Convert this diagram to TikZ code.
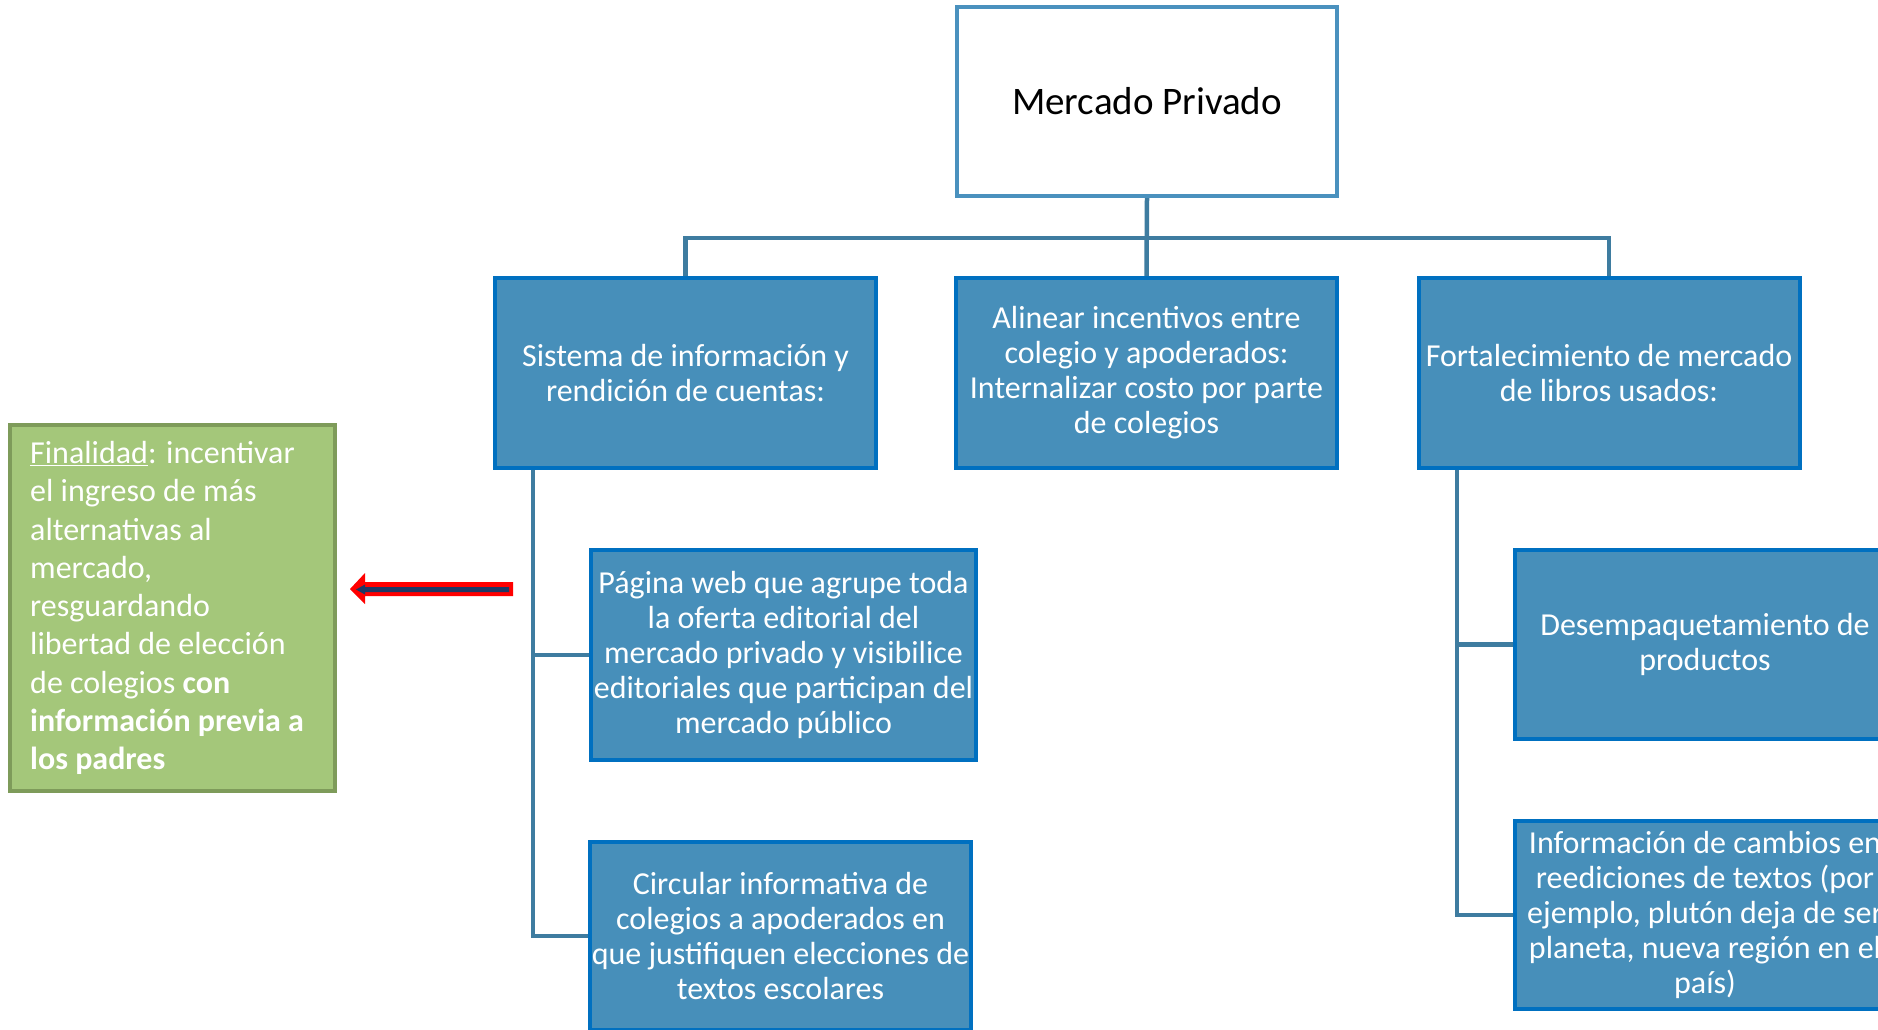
\documentclass[tikz,border=0pt]{standalone}
\usepackage{fontspec}
\setmainfont{Carlito}
\definecolor{boxfill}{RGB}{71,143,186}
\definecolor{boxline}{RGB}{0,112,192}
\definecolor{topline}{RGB}{74,145,190}
\definecolor{conncol}{RGB}{62,124,160}
\definecolor{greenfill}{RGB}{164,199,122}
\definecolor{greenline}{RGB}{126,155,90}
\definecolor{navy}{RGB}{31,56,100}
\pgfdeclarelayer{back}
\pgfsetlayers{back,main}
\begin{document}
\begin{tikzpicture}[x=1pt,y=-1pt,
  bluebox/.style={draw=boxline,fill=boxfill,line width=4pt,text=white,align=center,
    font=\fontsize{32}{35}\selectfont,inner sep=0pt,minimum width=381pt,minimum height=190pt},
  topbox/.style={draw=topline,fill=white,line width=4pt,text=black,align=center,
    font=\fontsize{39}{45}\selectfont,inner sep=0pt,minimum width=380pt,minimum height=189pt},
  greenbox/.style={draw=greenline,fill=greenfill,line width=4pt,inner sep=0pt,
    minimum width=325pt,minimum height=366pt},
  greentext/.style={text=white,align=left,font=\fontsize{32}{38.3}\selectfont,inner sep=0pt},
  conn/.style={draw=conncol,line width=4.5pt}]
\useasboundingbox (0,0) rectangle (1878,1029);
\clip (0,0) rectangle (1878,1029);
\begin{pgfonlayer}{back}
\fill[white] (0,0) rectangle (1878,1029);
\end{pgfonlayer}

\node[topbox] (top) at (1147,101.5) {Mercado Privado};
\node[bluebox] (sis) at (685.5,373) {Sistema de información y\\rendición de cuentas:};
\node[bluebox] (mid) at (1146.5,373) {Alinear incentivos entre\\colegio y apoderados:\\Internalizar costo por parte\\de colegios};
\node[bluebox] (fort) at (1609,373) {Fortalecimiento de mercado\\de libros usados:};
\node[bluebox,minimum width=385pt,minimum height=210pt] (web) at (783.5,655) {Página web que agrupe toda\\la oferta editorial del\\mercado privado y visibilice\\editoriales que participan del\\mercado público};
\node[bluebox,minimum height=188pt] (circ) at (780.5,936) {Circular informativa de\\colegios a apoderados en\\que justifiquen elecciones de\\textos escolares};
\node[bluebox,minimum width=380pt,minimum height=189pt] (desemp) at (1705,644.5) {Desempaquetamiento de\\productos};
\node[bluebox,minimum width=380pt,minimum height=188pt] (info) at (1705,915) {Información de cambios en\\reediciones de textos (por\\ejemplo, plutón deja de ser\\planeta, nueva región en el\\país)};
\node[greenbox] (fin) at (172.5,608) {};
\node[greentext,anchor=west] (fintext) at (30,608) {\underline{Finalidad}: incentivar\\el ingreso de más\\alternativas al\\mercado,\\resguardando\\libertad de elección\\de colegios \textbf{con}\\\textbf{información previa a}\\\textbf{los padres}};

% connectors
\coordinate (hub) at (1147,238);
\coordinate (lb) at (533,470);
\coordinate (rb) at (1457,470);
\begin{pgfonlayer}{back}
\draw[conn] (top.south) -- (mid.north);
\draw[conn] (sis.north) |- (hub) -| (fort.north);
\draw[conn] (lb) |- (web.west);
\draw[conn] (lb) |- (circ.west);
\draw[conn] (rb) |- (desemp.west);
\draw[conn] (rb) |- (info.west);
\end{pgfonlayer}

% arrow
\coordinate (arrTail) at (513,589);
\coordinate (arrTip) at (350,589);
\fill[red] (arrTip) -- (365,573) -- (365,582) -- (arrTail |- 0,582) -- (arrTail |- 0,596) -- (365,596) -- (365,604) -- cycle;
\fill[navy] (356,589.5) -- (365,584.5) -- (365,587) -- (509,587) -- (509,592) -- (365,592) -- (365,594.5) -- cycle;
\end{tikzpicture}
\end{document}
